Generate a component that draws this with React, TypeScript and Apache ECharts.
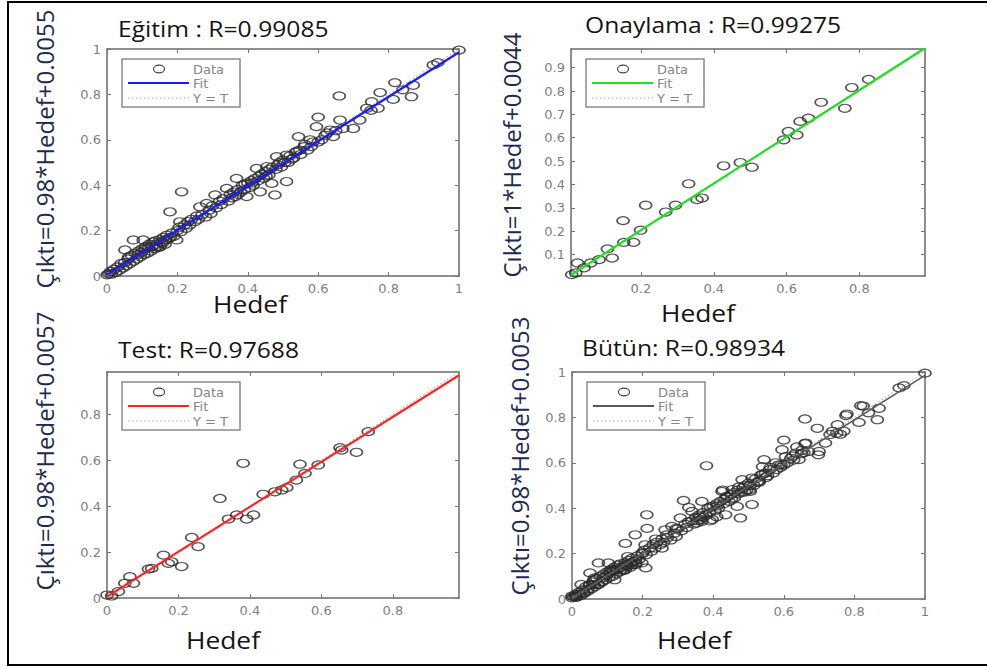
import React, { useEffect, useRef } from "react";
import * as echarts from "echarts";

// ---- data ----
const trainPts: [number, number][] = [
  [0.0, 0.005], [0.005, 0.01], [0.01, 0.02], [0.012, 0.008], [0.02, 0.03], [0.025, 0.015],
  [0.03, 0.04], [0.035, 0.025], [0.04, 0.055], [0.045, 0.035], [0.05, 0.06], [0.051, 0.115],
  [0.055, 0.045], [0.06, 0.075], [0.065, 0.055], [0.07, 0.09], [0.075, 0.159], [0.075, 0.065],
  [0.08, 0.1], [0.085, 0.075], [0.09, 0.11], [0.095, 0.085], [0.1, 0.12], [0.103, 0.159],
  [0.105, 0.095], [0.11, 0.13], [0.115, 0.1], [0.12, 0.14], [0.125, 0.11], [0.13, 0.15],
  [0.135, 0.12], [0.14, 0.14], [0.145, 0.125], [0.15, 0.16], [0.151, 0.129], [0.155, 0.15],
  [0.16, 0.17], [0.165, 0.14], [0.17, 0.18], [0.175, 0.165], [0.179, 0.283], [0.18, 0.17],
  [0.185, 0.19], [0.19, 0.175], [0.198, 0.159], [0.2, 0.2], [0.205, 0.215], [0.207, 0.239],
  [0.21, 0.195], [0.212, 0.371], [0.22, 0.225], [0.225, 0.21], [0.23, 0.24], [0.235, 0.225],
  [0.24, 0.25], [0.25, 0.24], [0.255, 0.265], [0.26, 0.25], [0.264, 0.305], [0.27, 0.27],
  [0.28, 0.26], [0.283, 0.32], [0.29, 0.29], [0.295, 0.275], [0.3, 0.31], [0.307, 0.357],
  [0.31, 0.3], [0.32, 0.33], [0.325, 0.315], [0.33, 0.34], [0.34, 0.386], [0.345, 0.33],
  [0.35, 0.36], [0.355, 0.345], [0.36, 0.37], [0.365, 0.35], [0.368, 0.43], [0.37, 0.38],
  [0.38, 0.37], [0.385, 0.4], [0.39, 0.38], [0.397, 0.35], [0.4, 0.41], [0.405, 0.39],
  [0.41, 0.42], [0.415, 0.4], [0.42, 0.43], [0.425, 0.474], [0.43, 0.42], [0.435, 0.371],
  [0.44, 0.45], [0.445, 0.43], [0.45, 0.46], [0.454, 0.482], [0.46, 0.445], [0.468, 0.408],
  [0.47, 0.48], [0.477, 0.357], [0.48, 0.47], [0.482, 0.526], [0.49, 0.5], [0.495, 0.48],
  [0.5, 0.51], [0.51, 0.533], [0.51, 0.416], [0.515, 0.5], [0.52, 0.53], [0.53, 0.52],
  [0.54, 0.55], [0.544, 0.614], [0.548, 0.555], [0.55, 0.535], [0.56, 0.57], [0.562, 0.58],
  [0.57, 0.555], [0.577, 0.6], [0.58, 0.57], [0.595, 0.658], [0.6, 0.7], [0.6, 0.59],
  [0.61, 0.6], [0.62, 0.62], [0.634, 0.643], [0.643, 0.614], [0.65, 0.64], [0.66, 0.793],
  [0.662, 0.687], [0.67, 0.65], [0.7, 0.65], [0.718, 0.687], [0.738, 0.739], [0.75, 0.73],
  [0.752, 0.768], [0.77, 0.739], [0.776, 0.808], [0.813, 0.778], [0.818, 0.852], [0.84, 0.82],
  [0.865, 0.79], [0.87, 0.84], [0.927, 0.93], [0.94, 0.94], [1.0, 0.995],
  [0.062, 0.085], [0.088, 0.095], [0.098, 0.105], [0.108, 0.12], [0.118, 0.125], [0.128, 0.13],
  [0.138, 0.155], [0.142, 0.13], [0.158, 0.145], [0.168, 0.16], [0.372, 0.36], [0.392, 0.405],
  [0.412, 0.41], [0.432, 0.44], [0.452, 0.44], [0.462, 0.47], [0.485, 0.49], [0.505, 0.5],
  [0.525, 0.515], [0.535, 0.545], [0.585, 0.59], [0.625, 0.63],
];

const valPts: [number, number][] = [
  [0.825, 0.85], [0.779, 0.815], [0.76, 0.726], [0.695, 0.752], [0.66, 0.684], [0.637, 0.67],
  [0.628, 0.612], [0.605, 0.627], [0.592, 0.591], [0.505, 0.474], [0.473, 0.494], [0.427, 0.48],
  [0.331, 0.403], [0.368, 0.342], [0.354, 0.335], [0.295, 0.311], [0.268, 0.282], [0.213, 0.311],
  [0.199, 0.204], [0.18, 0.152], [0.153, 0.152], [0.151, 0.245], [0.121, 0.085], [0.108, 0.124],
  [0.085, 0.078], [0.062, 0.064], [0.026, 0.064], [0.044, 0.043], [0.021, 0.021], [0.01, 0.014],
];

const testPts: [number, number][] = [
  [0.731, 0.725], [0.698, 0.635], [0.652, 0.655], [0.657, 0.645], [0.591, 0.58], [0.54, 0.583],
  [0.554, 0.543], [0.53, 0.514], [0.503, 0.481], [0.489, 0.471], [0.47, 0.463], [0.437, 0.452],
  [0.381, 0.587], [0.316, 0.434], [0.363, 0.362], [0.34, 0.344], [0.391, 0.344], [0.41, 0.362],
  [0.237, 0.264], [0.255, 0.224], [0.158, 0.187], [0.172, 0.151], [0.181, 0.158], [0.209, 0.137],
  [0.125, 0.129], [0.116, 0.126], [0.064, 0.093], [0.074, 0.064], [0.05, 0.064], [0.032, 0.028],
  [0.0, 0.013], [0.013, 0.009],
];

const allPts: [number, number][] = [...trainPts, ...valPts, ...testPts];

const titles = ["Eğitim : R=0.99085", "Onaylama : R=0.99275", "Test: R=0.97688", "Bütün: R=0.98934"];
const yNames = ["Çıktı=0.98*Hedef+0.0055", "Çıktı=1*Hedef+0.0044", "Çıktı=0.98*Hedef+0.0057", "Çıktı=0.98*Hedef+0.0053"];
const xName = "Hedef";
const fitSlopes = [0.98, 1, 0.98, 0.98];
const fitIntercepts = [0.0055, 0.0044, 0.0057, 0.0053];
const axisRanges: [number, number][] = [[0, 1], [0.008, 0.98], [0, 0.985], [0, 1]];
const xTicks = [
  [0, 0.2, 0.4, 0.6, 0.8, 1],
  [0.2, 0.4, 0.6, 0.8],
  [0, 0.2, 0.4, 0.6, 0.8],
  [0, 0.2, 0.4, 0.6, 0.8, 1],
];
const yTicks = [
  [0, 0.2, 0.4, 0.6, 0.8, 1],
  [0.1, 0.2, 0.3, 0.4, 0.5, 0.6, 0.7, 0.8, 0.9],
  [0, 0.2, 0.4, 0.6, 0.8],
  [0, 0.2, 0.4, 0.6, 0.8, 1],
];
const legendNames = ["Data", "Fit", "Y = T"];
const panelData = [trainPts, valPts, testPts, allPts];

// ---- layout & style ----
const fitColors = ["#1a1aff", "#1fe01f", "#ff2424", "#5a5a5a"];
const grids = [
  { left: 107, top: 49, width: 352, height: 227 },
  { left: 571, top: 49, width: 354, height: 227 },
  { left: 107, top: 372, width: 352, height: 226 },
  { left: 572, top: 372, width: 353, height: 227 },
];
const titlePos = [
  { x: 118, y: 29 },
  { x: 585, y: 25 },
  { x: 118, y: 350 },
  { x: 582, y: 348 },
];
const yNamePos = [
  { x: 44, y: 149 },
  { x: 511, y: 155 },
  { x: 44, y: 451 },
  { x: 519, y: 456 },
];
const xNamePos = [
  { x: 250, y: 303 },
  { x: 698, y: 312 },
  { x: 223, y: 639 },
  { x: 694, y: 639 },
];

const TICK_FONT = "DejaVu Sans";
const TEXT_FONT = "Open Sans";

function makeOption() {
  const xAxis: any[] = [];
  const yAxis: any[] = [];
  const series: any[] = [];
  const graphic: any[] = [];
  const axisLine = { show: true, onZero: false, lineStyle: { color: "#6a6a6a", width: 1.5 } };

  grids.forEach((g, i) => {
    const [mn, mx] = axisRanges[i];
    ["bottom", "top"].forEach((pos) => {
      xAxis.push({
        type: "value", gridIndex: i, position: pos, min: mn, max: mx,
        axisLine,
        axisTick: { show: true, inside: true, length: 4, customValues: xTicks[i], lineStyle: { color: "#777" } },
        axisLabel: { show: pos === "bottom", customValues: xTicks[i], color: "#808080", fontSize: 13, fontFamily: TICK_FONT, margin: 6 },
        splitLine: { show: false },
      });
    });
    ["left", "right"].forEach((pos) => {
      yAxis.push({
        type: "value", gridIndex: i, position: pos, min: mn, max: mx,
        axisLine,
        axisTick: { show: true, inside: true, length: 4, customValues: yTicks[i], lineStyle: { color: "#777" } },
        axisLabel: { show: pos === "left", customValues: yTicks[i], color: "#808080", fontSize: 13, fontFamily: TICK_FONT, margin: 6 },
        splitLine: { show: false },
      });
    });
    const a = fitSlopes[i], b = fitIntercepts[i];
    series.push({
      type: "line", name: legendNames[2], xAxisIndex: 2 * i, yAxisIndex: 2 * i,
      data: [[mn, mn], [mx, mx]], symbol: "none",
      lineStyle: { color: "#999", width: 1, type: [1.5, 2.5] },
    });
    series.push({
      type: "scatter", name: legendNames[0], xAxisIndex: 2 * i, yAxisIndex: 2 * i,
      data: panelData[i], symbol: "circle", symbolSize: [12, 8],
      itemStyle: { color: "rgba(0,0,0,0)", borderColor: "#2a2a2a", borderWidth: 1.4 },
    });
    series.push({
      type: "line", name: legendNames[1], xAxisIndex: 2 * i, yAxisIndex: 2 * i,
      data: [[mn, a * mn + b], [mx, a * mx + b]], symbol: "none",
      lineStyle: { color: fitColors[i], width: i === 3 ? 1.6 : 2.2 },
    });

    // texts
    graphic.push({
      type: "text", x: titlePos[i].x, y: titlePos[i].y, scaleX: 1.12,
      style: { text: titles[i], fontSize: 22, fontFamily: TEXT_FONT, fill: "#141414", align: "left", verticalAlign: "middle" },
    });
    graphic.push({
      type: "text", x: yNamePos[i].x, y: yNamePos[i].y, rotation: Math.PI / 2,
      style: { text: yNames[i], fontSize: 24, fontFamily: TEXT_FONT, fill: "#1d2b52", align: "center", verticalAlign: "middle" },
    });
    graphic.push({
      type: "text", x: xNamePos[i].x, y: xNamePos[i].y, scaleX: 1.1,
      style: { text: xName, fontSize: 24, fontFamily: TEXT_FONT, fill: "#141414", align: "center", verticalAlign: "middle" },
    });

    // legend box
    const lx = g.left + 15, ly = g.top + 10;
    const lf = { fontSize: 13, fontFamily: TICK_FONT, fill: "#858585", align: "left", verticalAlign: "middle" };
    graphic.push({
      type: "group", x: lx, y: ly,
      children: [
        { type: "rect", shape: { x: 0, y: 0, width: 118, height: 48 }, style: { fill: "#fff", stroke: "#8a8a8a", lineWidth: 1.5 } },
        { type: "ellipse", shape: { cx: 37, cy: 10, rx: 5.5, ry: 3.8 }, style: { fill: "none", stroke: "#444", lineWidth: 1.2 } },
        { type: "line", shape: { x1: 6, y1: 24, x2: 67, y2: 24 }, style: { stroke: fitColors[i], lineWidth: 2.2 } },
        { type: "line", shape: { x1: 6, y1: 39, x2: 67, y2: 39 }, style: { stroke: "#aaa", lineWidth: 1, lineDash: [1.5, 2.5] } },
        { type: "text", x: 71, y: 10, style: { ...lf, text: legendNames[0] } },
        { type: "text", x: 71, y: 24, style: { ...lf, text: legendNames[1] } },
        { type: "text", x: 71, y: 39, style: { ...lf, text: legendNames[2] } },
      ],
    });
  });

  graphic.push({
    type: "rect", shape: { x: 8, y: 2, width: 990, height: 663 },
    style: { fill: "none", stroke: "#000", lineWidth: 2 }, z: 100,
  });

  return {
    animation: false,
    backgroundColor: "#ffffff",
    grid: grids.map((g) => ({ ...g, containLabel: false })),
    xAxis, yAxis, series, graphic,
  };
}

export default function App() {
  const ref = useRef<HTMLDivElement>(null);
  useEffect(() => {
    if (!ref.current) return;
    const chart = echarts.init(ref.current, undefined, { renderer: "svg" });
    chart.setOption(makeOption() as any);
    return () => chart.dispose();
  }, []);
  return (
    <div
      ref={ref}
      style={{ position: "fixed", left: 0, top: 0, width: 987, height: 668, background: "#fff" }}
    />
  );
}
